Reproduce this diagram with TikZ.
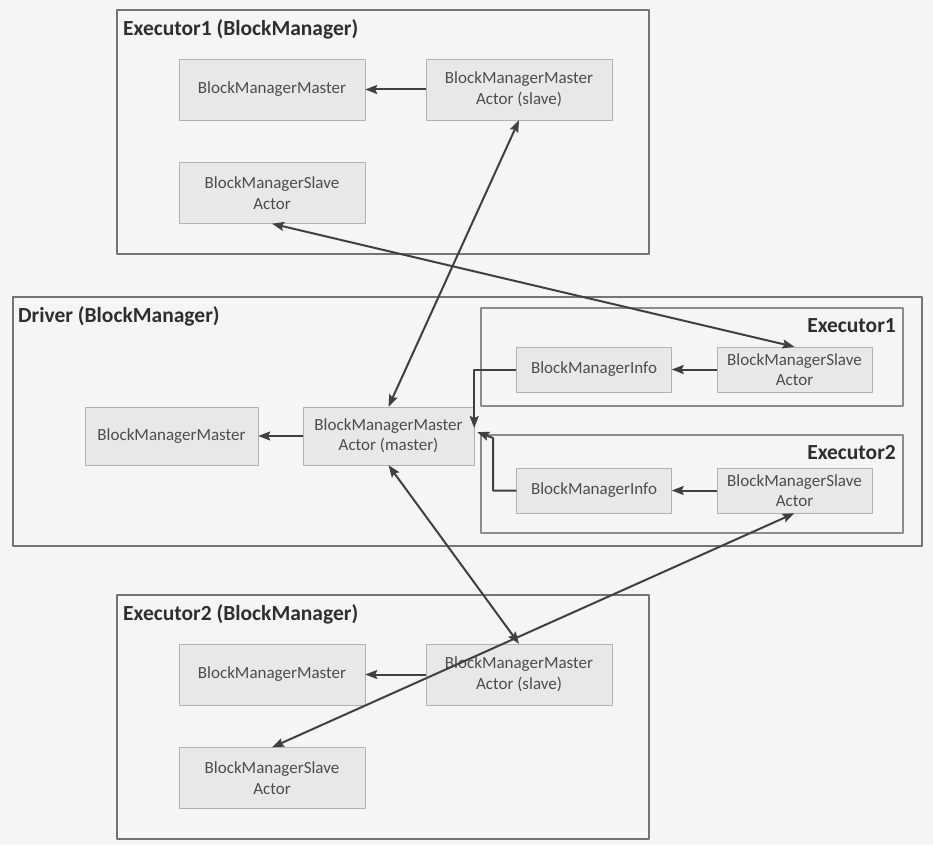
\documentclass[tikz,border=0pt]{standalone}
\usepackage{fontspec}
\setmainfont{Carlito}
\usetikzlibrary{arrows.meta}
\begin{document}
\begin{tikzpicture}[x=1pt, y=-1pt, line join=round, >={Stealth[length=12pt,width=9pt,inset=2pt]},
	blk/.style={draw=black!30, fill=black!9, text=black!70, align=center, inner sep=0pt, minimum height=61pt, minimum width=186pt, font=\fontsize{17}{20.5}\selectfont},
	sblk/.style={blk, minimum height=45pt, minimum width=155pt},
	frame/.style={draw=black!55, line width=2pt},
	ttl/.style={text=black!82, font=\fontsize{21.5}{24}\selectfont\bfseries, inner sep=0pt},
	lnk/.style={draw=black!75, line width=2pt}]
	\fill[black!4] (0,0) rectangle (933,845);
	\useasboundingbox (0,0) rectangle (933,845);
	\foreach \k/\y in {1/10,2/595}{
		\draw[frame] (117,\y) rectangle (649,\y+244);
		\node[ttl, anchor=west] (e\k) at (123,\y+19) {Executor\k{} (BlockManager)};
		\node[blk] (m\k) at (272,\y+79.5) {BlockManagerMaster};
		\node[blk] (ma\k) at (519,\y+79.5) {BlockManagerMaster\\Actor (slave)};
		\node[blk] (s\k) at (272,\y+183) {BlockManagerSlave\\Actor};
		\draw[lnk,->] (ma\k) -- (m\k);
	}
	\draw[frame] (13,297) rectangle (922,546);
	\node[ttl, anchor=west] (dt) at (18,316) {Driver (BlockManager)};
	\node[blk, minimum width=173pt, minimum height=58pt] (dm) at (171.5,436) {BlockManagerMaster};
	\node[blk, minimum width=171pt, minimum height=58pt] (dma) at (388.5,436) {BlockManagerMaster\\Actor (master)};
	\foreach \k/\b/\n in {1/308/369.5,2/435/490.5}{
		\draw[draw=black!45, line width=1.5pt] (481,\b) rectangle (903,\b+98);
		\node[ttl, anchor=east] (x\k) at (896,\b+18) {Executor\k};
		\node[sblk] (i\k) at (594,\n) {BlockManagerInfo};
		\node[sblk] (ds\k) at (794.5,\n) {BlockManagerSlave\\Actor};
		\draw[lnk,->] (ds\k) -- (i\k);
	}
	\draw[lnk,->] (dma) -- (dm);
	\draw[lnk,->] (i1.west) -| ([yshift=8pt]dma.east);
	\coordinate (j2) at (493,438);
	\draw[lnk,->] (i2.west) -| (j2) -- ([xshift=3pt,yshift=4pt]dma.east);
	\draw[lnk,<->] (ma1.south) -- (dma.north);
	\draw[lnk,<->] (s1.south) -- (ds1.north);
	\draw[lnk,<->] (dma.south) -- (ma2.north);
	\draw[lnk,<->] (ds2.south) -- (s2.north);
\end{tikzpicture}
\end{document}
